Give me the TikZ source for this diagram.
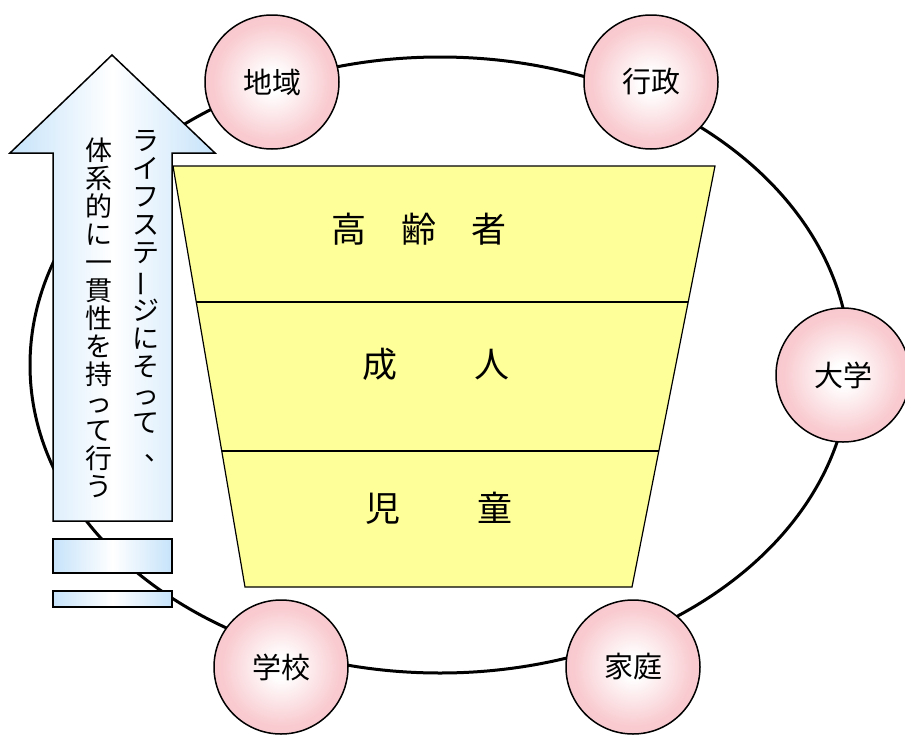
\documentclass[tikz,border=0pt]{standalone}
\usepackage{graphicx}
\usepackage{fontspec}
\setmainfont{Noto Sans CJK JP}
\usetikzlibrary{calc}
\definecolor{pinkc}{RGB}{247,190,196}
\definecolor{bluec}{RGB}{198,227,250}
\definecolor{yellowc}{RGB}{255,255,153}
\pgfdeclareradialshading{pinkball}{\pgfpointorigin}{color(0bp)=(white); color(4bp)=(white); color(22bp)=(pinkc!80!white); color(50bp)=(pinkc)}
\newcommand{\vchou}{\rotatebox[origin=c]{90}{ー}}
\newcommand{\vten}{\makebox[1em][l]{\hspace{0.45em}、}}
\tikzset{
	node_org/.style = {
		circle,
		draw=black,
		line width=1.5pt,
		shade,
		shading=pinkball,
		minimum size=134pt,
		inner sep=0pt,
		font=\fontsize{29}{29}\selectfont
	},
	node_stage/.style = {
		inner sep=0pt,
		font=\fontsize{35}{35}\selectfont
	},
	node_vtext/.style = {
		align=center,
		inner sep=0pt,
		anchor=north,
		font=\fontsize{27}{28}\selectfont
	},
	fill_arrow/.style = {
		draw=black,
		line width=1.5pt,
		left color=bluec,
		right color=bluec,
		middle color=white
	},
}

\begin{document}
\begin{tikzpicture}[x=1pt,y=-1pt]
\useasboundingbox (0,0) rectangle (905,734);
% ring
\coordinate (ring) at (440,365);
\draw[line width=3pt] (ring) ellipse [x radius=410pt, y radius=308pt];
% life stages
\coordinate (tl) at (173,166);
\coordinate (tr) at (715,166);
\coordinate (br) at (632,587);
\coordinate (bl) at (245,587);
\draw[fill=yellowc, line width=1.2pt] (tl) -- (tr) -- (br) -- (bl) -- cycle;
\draw[line width=1.2pt] ($(tl)!0.323!(bl)$) -- ($(tr)!0.323!(br)$);
\draw[line width=1.2pt] ($(tl)!0.677!(bl)$) -- ($(tr)!0.677!(br)$);
\node [node_stage] (elder) at (419,229) {高　齢　者};
\node [node_stage] (adult) at (436,364) {成\hspace{2.2em}人};
\node [node_stage] (child) at (439,508) {児\hspace{2.2em}童};
% arrow
\draw[fill_arrow] (112,55) -- (215,153) -- (172,153) -- (172,521)
	-- (53,521) -- (53,153) -- (10,153) -- cycle;
\draw[fill_arrow] (53,539) rectangle (172,573);
\draw[fill_arrow] (53,591) rectangle (172,607);
\node [node_vtext] (stage) at (146,130) {ラ\\イ\\フ\\ス\\テ\\\vchou\\ジ\\に\\そ\\っ\\て\\\vten};
\node [node_vtext] (keep) at (99,138) {体\\系\\的\\に\\一\\貫\\性\\を\\持\\っ\\て\\行\\う};
% partners
\node [node_org] (chiiki) at (272,82) {地域};
\node [node_org] (gyosei) at (651,82) {行政};
\node [node_org] (daigaku) at (843,375) {大学};
\node [node_org] (gakko) at (281,667) {学校};
\node [node_org] (katei) at (633,667) {家庭};
\end{tikzpicture}
\end{document}
